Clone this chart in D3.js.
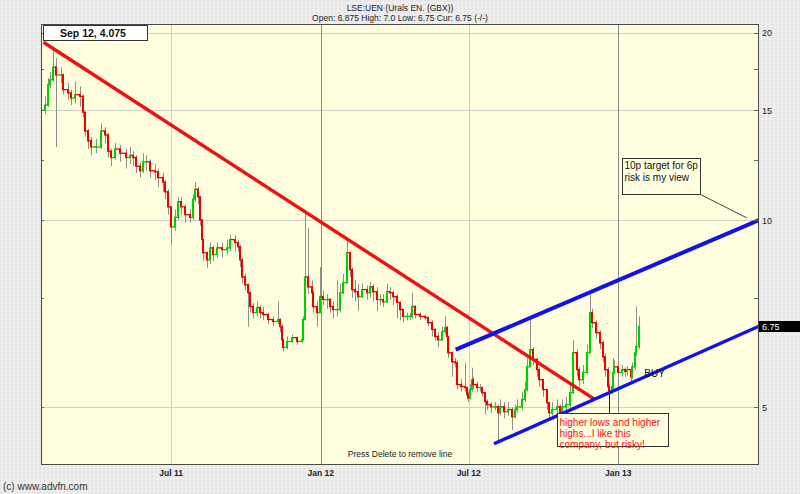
<!DOCTYPE html>
<html>
<head>
<meta charset="utf-8">
<script src="https://cdn.jsdelivr.net/npm/d3@7"></script>
<style>
body { margin: 0; background: #ececec; }
svg { display: block; font-family: Arial, "Liberation Sans", sans-serif; }
</style>
</head>
<body>
<div id="chart"></div>
<script>

// price data (roughly one bar per week)
var dates = [
    '2011-01-22','2011-01-27','2011-01-31','2011-02-02','2011-02-06','2011-02-10','2011-02-15','2011-02-18','2011-02-24','2011-02-28',
    '2011-03-05','2011-03-11','2011-03-15','2011-03-17','2011-03-21','2011-03-25','2011-03-31','2011-04-06','2011-04-11','2011-04-15',
    '2011-04-18','2011-04-23','2011-04-29','2011-05-06','2011-05-12','2011-05-15','2011-05-19','2011-05-24','2011-05-28','2011-05-31',
    '2011-06-05','2011-06-11','2011-06-15','2011-06-21','2011-06-24','2011-06-27','2011-07-01','2011-07-06','2011-07-10','2011-07-13',
    '2011-07-18','2011-07-24','2011-07-28','2011-07-30','2011-08-03','2011-08-06','2011-08-08','2011-08-09','2011-08-14','2011-08-18',
    '2011-08-22','2011-08-26','2011-09-02','2011-09-08','2011-09-11','2011-09-18','2011-09-21','2011-09-24','2011-09-26','2011-09-30',
    '2011-10-04','2011-10-06','2011-10-10','2011-10-15','2011-10-18','2011-10-22','2011-10-28','2011-11-03','2011-11-09','2011-11-12',
    '2011-11-14','2011-11-16','2011-11-20','2011-11-27','2011-12-03','2011-12-09','2011-12-10','2011-12-13','2011-12-16','2011-12-21',
    '2011-12-22','2011-12-27','2011-12-31','2012-01-04','2012-01-09','2012-01-12','2012-01-16','2012-01-21','2012-01-25','2012-01-28',
    '2012-02-02','2012-02-06','2012-02-08','2012-02-12','2012-02-16','2012-02-21','2012-02-27','2012-03-01','2012-03-05','2012-03-10',
    '2012-03-14','2012-03-17','2012-03-22','2012-03-26','2012-03-30','2012-04-04','2012-04-07','2012-04-11','2012-04-16','2012-04-20',
    '2012-04-22','2012-04-26','2012-05-02','2012-05-08','2012-05-12','2012-05-17','2012-05-20','2012-05-24','2012-05-29','2012-06-02',
    '2012-06-04','2012-06-06','2012-06-10','2012-06-14','2012-06-16','2012-06-17','2012-06-22','2012-06-26','2012-06-29','2012-06-30',
    '2012-07-02','2012-07-05','2012-07-06','2012-07-11','2012-07-15','2012-07-17','2012-07-21','2012-07-24','2012-07-29','2012-08-02',
    '2012-08-06','2012-08-08','2012-08-14','2012-08-18','2012-08-23','2012-08-27','2012-08-30','2012-09-04','2012-09-08','2012-09-11',
    '2012-09-14','2012-09-18','2012-09-23','2012-09-26','2012-09-30','2012-10-05','2012-10-08','2012-10-12','2012-10-17','2012-10-21',
    '2012-10-24','2012-10-29','2012-11-02','2012-11-06','2012-11-11','2012-11-14','2012-11-18','2012-11-23','2012-11-27','2012-11-30',
    '2012-12-05','2012-12-09','2012-12-13','2012-12-15','2012-12-19','2012-12-21','2012-12-24','2012-12-25','2012-12-27','2012-12-31',
    '2013-01-05','2013-01-09','2013-01-12','2013-01-16','2013-01-18','2013-01-21','2013-01-23','2013-01-26'
];
var firstOpen = 15.2;
var closes = [
    15.0, 15.3, 16.5, 16.8, 17.6, 17.1, 17.1, 16.2, 16.0, 15.7,
    15.9, 15.8, 14.9, 13.9, 13.4, 13.1, 13.1, 13.9, 13.7, 12.9,
    12.6, 13.0, 12.8, 12.6, 12.7, 12.6, 12.2, 12.0, 12.4, 12.4,
    12.0, 11.95, 11.7, 11.5, 11.1, 10.5, 9.75, 10.1, 10.7, 10.5,
    10.2, 10.1, 10.8, 11.2, 10.9, 10.0, 9.3, 8.86, 8.63, 9.02,
    8.8, 9.02, 8.96, 9.02, 9.3, 9.2, 9.06, 8.63, 8.1, 7.87,
    7.64, 7.26, 7.1, 7.23, 7.1, 7.05, 6.92, 6.87, 6.92, 6.74,
    6.42, 6.24, 6.38, 6.47, 6.38, 6.42, 6.92, 8.1, 7.81, 7.64,
    7.26, 7.1, 7.53, 7.45, 7.45, 7.26, 7.18, 7.18, 7.64, 7.93,
    8.86, 8.32, 7.73, 7.67, 7.53, 7.73, 7.64, 7.81, 7.67, 7.45,
    7.45, 7.39, 7.67, 7.64, 7.53, 7.37, 7.18, 7.0, 7.0, 7.0,
    7.26, 7.05, 7.0, 6.97, 6.84, 6.67, 6.5, 6.42, 6.62, 6.72,
    6.5, 6.12, 5.92, 5.9, 5.75, 5.44, 5.4, 5.38, 5.24, 5.18,
    5.34, 5.54, 5.44, 5.38, 5.38, 5.28, 5.11, 5.05, 5.01, 5.01,
    4.9, 5.01, 4.92, 4.96, 4.83, 4.96, 5.01, 5.15, 5.34, 5.81,
    6.19, 5.97, 5.75, 5.54, 5.34, 5.09, 4.9, 4.96, 5.01, 4.9,
    5.01, 5.05, 5.28, 6.12, 5.75, 5.54, 5.69, 6.12, 7.1, 6.84,
    6.59, 6.35, 6.03, 5.75, 5.4, 5.28, 5.4, 5.69, 5.81, 5.69,
    5.75, 5.71, 5.75, 5.6, 5.81, 6.12, 6.26, 6.75
];
var highs = [
    15.6, 15.8, 16.9, 17.3, 18.9, 18.2, 17.6, 17.2, 16.6, 16.2,
    16.7, 16.4, 15.9, 14.9, 14.0, 13.6, 13.5, 14.3, 14.1, 13.8,
    13.0, 13.3, 13.2, 13.0, 13.1, 12.9, 12.7, 12.4, 12.8, 12.7,
    12.5, 12.3, 12.1, 11.9, 11.6, 11.2, 10.5, 10.4, 10.9, 10.9,
    10.6, 10.4, 11.0, 11.5, 11.3, 10.9, 10.0, 9.3, 8.9, 9.2,
    9.1, 9.2, 9.2, 9.3, 9.47, 9.45, 9.3, 9.1, 8.7, 8.2,
    7.9, 7.7, 7.35, 7.4, 7.3, 7.25, 7.1, 7.0, 7.4, 6.95,
    6.8, 6.45, 6.5, 6.55, 6.5, 6.5, 7.0, 10.3, 9.7, 8.0,
    7.7, 7.4, 8.4, 7.7, 7.6, 7.5, 7.4, 8.0, 7.9, 8.2,
    9.3, 8.9, 8.4, 8.0, 7.9, 7.9, 7.85, 7.95, 7.9, 7.8,
    7.6, 7.6, 7.9, 7.8, 7.7, 7.6, 7.4, 7.2, 7.1, 7.1,
    7.64, 7.3, 7.1, 7.05, 7.0, 6.9, 6.7, 6.6, 6.75, 7.0,
    6.75, 6.5, 6.15, 6.0, 5.95, 5.75, 5.55, 5.9, 5.4, 5.3,
    5.45, 5.79, 5.6, 5.5, 5.45, 5.4, 5.3, 5.15, 5.1, 5.1,
    5.05, 5.15, 5.1, 5.1, 5.0, 5.05, 5.15, 5.3, 5.5, 6.0,
    6.92, 6.25, 6.0, 5.8, 5.55, 5.35, 5.1, 5.1, 5.15, 5.05,
    5.15, 5.2, 5.45, 6.42, 6.2, 5.8, 5.85, 6.3, 7.59, 7.2,
    6.9, 6.65, 6.4, 6.1, 5.8, 5.45, 5.5, 6.0, 5.95, 5.85,
    5.85, 5.8, 5.82, 5.78, 5.9, 6.25, 7.26, 7.0
];
var lows = [
    14.2, 14.8, 15.2, 16.3, 16.7, 13.1, 16.6, 15.9, 15.6, 15.3,
    15.4, 15.2, 14.6, 13.6, 13.0, 12.7, 12.8, 13.0, 13.3, 12.6,
    12.2, 12.5, 12.4, 12.1, 12.3, 12.2, 11.9, 11.7, 11.9, 12.0,
    11.7, 11.6, 11.3, 11.1, 10.8, 10.2, 9.13, 9.6, 10.0, 10.2,
    9.9, 9.9, 10.0, 10.7, 10.6, 9.8, 9.1, 8.6, 8.38, 8.5,
    8.6, 8.7, 8.7, 8.8, 8.9, 8.9, 8.9, 8.4, 7.9, 7.7,
    6.74, 7.1, 6.95, 7.0, 6.95, 6.9, 6.8, 6.75, 6.8, 6.6,
    6.3, 6.15, 6.2, 6.35, 6.3, 6.35, 6.4, 6.9, 7.6, 7.4,
    7.1, 6.74, 7.1, 7.3, 7.2, 7.1, 6.95, 7.0, 7.1, 7.6,
    7.9, 8.1, 7.5, 7.4, 7.15, 7.5, 7.45, 7.5, 7.4, 7.14,
    7.3, 7.25, 7.35, 7.45, 7.3, 6.95, 6.9, 6.85, 6.9, 6.9,
    6.95, 6.95, 6.9, 6.9, 6.75, 6.5, 6.4, 6.25, 6.4, 6.55,
    6.4, 6.0, 5.6, 5.8, 5.65, 5.35, 5.3, 5.3, 5.15, 5.1,
    5.15, 5.3, 5.35, 5.3, 5.3, 5.2, 4.87, 4.95, 4.9, 4.95,
    4.37, 4.85, 4.8, 4.85, 4.6, 4.8, 4.9, 4.95, 5.1, 5.3,
    5.8, 5.85, 5.6, 5.4, 5.2, 4.95, 4.8, 4.85, 4.9, 4.8,
    4.88, 4.95, 5.0, 5.25, 5.6, 5.4, 5.45, 5.65, 6.1, 6.7,
    6.45, 6.2, 5.9, 5.6, 5.3, 5.2, 5.25, 5.35, 5.65, 5.55,
    5.6, 5.6, 5.62, 5.5, 5.55, 5.75, 6.05, 6.2
];

// axis
var majorTicks = [5, 10, 15, 20];
var minorTicks = [7.5, 12.5, 17.5];
var monthTicks = ['2011-07-01', '2012-01-01', '2012-07-01', '2013-01-01'];
var monthLabels = ['Jul 11', 'Jan 12', 'Jul 12', 'Jan 13'];
var xDomain = ['2011-01-22', '2013-06-23'];
var yDomain = [4.04, 20.65];

// drawn trend lines [date, price]
var redLine = [['2011-01-25', 19.3], ['2012-12-03', 5.15]];
var blueTop = [['2012-06-15', 6.19], ['2013-06-23', 10.0]];
var blueBottom = [['2012-08-01', 4.37], ['2013-06-23', 6.75]];

// notes
var noteTarget = {at: ['2013-01-05', 12.6], to: ['2013-06-08', 10.08],
    lines: ['10p target for 6p', 'risk is my view']};
var noteLows = {at: ['2012-10-17', 4.9], from: ['2012-12-21', 5.24],
    lines: ['higher lows and higher', 'highs...I like this', 'company, but risky!']};
var noteBuy = {at: ['2013-02-02', 5.67], text: 'BUY'};

var title = 'LSE:UEN (Urals EN. (GBX))';
var subtitle = 'Open: 6.875 High: 7.0 Low: 6.75 Cur: 6.75 (-/-)';
var cursorText = 'Sep 12, 4.075';
var lastPrice = 6.75;

var W = 800, H = 494;
var margin = {top: 24, right: 41, bottom: 29, left: 41};
var parse = d3.timeParse('%Y-%m-%d');

var bars = dates.map(function (d, i) {
    return {date: parse(d), open: i === 0 ? firstOpen : closes[i - 1],
        close: closes[i], high: highs[i], low: lows[i]};
});

var svg = d3.select('#chart').append('svg')
    .attr('width', W)
    .attr('height', H);

// stippled backgrounds
var defs = svg.append('defs');
var pat = defs.append('pattern').attr('id', 'stip')
    .attr('width', 4).attr('height', 4).attr('patternUnits', 'userSpaceOnUse');
pat.append('rect').attr('width', 4).attr('height', 4).attr('fill', '#ececec');
pat.append('rect').attr('x', 0).attr('y', 0).attr('width', 1).attr('height', 1).attr('fill', '#dcdcdc');
pat.append('rect').attr('x', 2).attr('y', 2).attr('width', 1).attr('height', 1).attr('fill', '#f7f7f7');
pat.append('rect').attr('x', 3).attr('y', 1).attr('width', 1).attr('height', 1).attr('fill', '#e2e2e2');

svg.append('rect').attr('width', W).attr('height', H).attr('fill', 'url(#stip)');

var x0 = margin.left, x1 = W - margin.right, y0 = margin.top, y1 = H - margin.bottom;

var x = d3.scaleTime()
    .domain(xDomain.map(parse))
    .range([x0, x1]);
var y = d3.scaleLog()
    .domain(yDomain)
    .range([y1, y0]);

defs.append('clipPath').attr('id', 'plotclip')
    .append('rect').attr('x', x0).attr('y', y0).attr('width', x1 - x0).attr('height', y1 - y0);

svg.append('rect')
    .attr('x', x0).attr('y', y0)
    .attr('width', x1 - x0).attr('height', y1 - y0)
    .attr('fill', '#ffffe0');

/////// GRID
svg.append('g').selectAll('line')
    .data(majorTicks)
    .enter().append('line')
    .attr('x1', x0).attr('x2', x1)
    .attr('y1', function (d) { return Math.round(y(d)) + 0.5; })
    .attr('y2', function (d) { return Math.round(y(d)) + 0.5; })
    .attr('stroke', '#cfcfc4');

svg.append('g').selectAll('line')
    .data(monthTicks)
    .enter().append('line')
    .attr('x1', function (d) { return Math.round(x(parse(d))) + 0.5; })
    .attr('x2', function (d) { return Math.round(x(parse(d))) + 0.5; })
    .attr('y1', y0).attr('y2', y1)
    .attr('stroke', function (d) { return d.indexOf('-01-01') > 0 ? '#8a8a8a' : '#cfcfc4'; });

/////// PRICE BARS
var plot = svg.append('g').attr('clip-path', 'url(#plotclip)');

plot.append('g').selectAll('line')
    .data(bars)
    .enter().append('line')
    .attr('x1', function (d) { return Math.round(x(d.date)) + 0.5; })
    .attr('x2', function (d) { return Math.round(x(d.date)) + 0.5; })
    .attr('y1', function (d) { return y(d.high); })
    .attr('y2', function (d) { return y(d.low); })
    .attr('stroke', '#8e8e8e')
    .attr('stroke-width', 1);

function barColor(d) {
    return d.close >= d.open ? '#00d000' : '#f00000';
}

// flat step from previous bar at the open level
plot.append('g').selectAll('line')
    .data(bars)
    .enter().append('line')
    .attr('x1', function (d, i) { return i === 0 ? x(d.date) - 3 : x(bars[i - 1].date); })
    .attr('x2', function (d) { return x(d.date); })
    .attr('y1', function (d) { return y(d.open); })
    .attr('y2', function (d) { return y(d.open); })
    .attr('stroke', barColor)
    .attr('stroke-width', 1.3);

plot.append('g').selectAll('rect')
    .data(bars)
    .enter().append('rect')
    .attr('x', function (d) { return Math.round(x(d.date)) - 1; })
    .attr('y', function (d) { return Math.min(y(d.open), y(d.close)) - 0.6; })
    .attr('width', 2)
    .attr('height', function (d) { return Math.abs(y(d.open) - y(d.close)) + 1.2; })
    .attr('fill', barColor);

/////// TREND LINES
var trend = d3.line()
    .x(function (d) { return x(parse(d[0])); })
    .y(function (d) { return y(d[1]); });

plot.append('path').datum(redLine)
    .attr('d', trend).attr('fill', 'none')
    .attr('stroke', '#f01010').attr('stroke-width', 3.4);
plot.append('path').datum(blueTop)
    .attr('d', trend).attr('fill', 'none')
    .attr('stroke', '#1010f0').attr('stroke-width', 4);
plot.append('path').datum(blueBottom)
    .attr('d', trend).attr('fill', 'none')
    .attr('stroke', '#1010f0').attr('stroke-width', 3.4);

/////// NOTES
function note(n, w, h, color, lineGap, firstLine) {
    var px = Math.round(x(parse(n.at[0]))) + 0.5;
    var py = Math.round(y(n.at[1])) + 0.5;
    var g = plot.append('g');
    g.append('rect')
        .attr('x', px).attr('y', py).attr('width', w).attr('height', h)
        .attr('fill', '#ffffe0').attr('stroke', '#333').attr('stroke-width', 1);
    g.append('text')
        .attr('font-size', '10px')
        .attr('fill', color)
        .selectAll('tspan').data(n.lines).enter().append('tspan')
        .attr('x', px + 2)
        .attr('y', function (d, i) { return py + firstLine + i * lineGap; })
        .text(function (d) { return d; });
    return {x: px, y: py};
}

var t = note(noteTarget, 78, 36, '#111', 11.5, 10.5);
plot.append('line')
    .attr('x1', t.x + 78).attr('y1', t.y + 36)
    .attr('x2', x(parse(noteTarget.to[0]))).attr('y2', y(noteTarget.to[1]))
    .attr('stroke', '#444').attr('stroke-width', 1);

var l = note(noteLows, 111, 33, '#ff1010', 11, 12);
plot.append('line')
    .attr('x1', Math.round(x(parse(noteLows.from[0]))) + 0.5)
    .attr('x2', Math.round(x(parse(noteLows.from[0]))) + 0.5)
    .attr('y1', y(noteLows.from[1])).attr('y2', l.y)
    .attr('stroke', '#222').attr('stroke-width', 1);

plot.append('text')
    .attr('x', x(parse(noteBuy.at[0]))).attr('y', y(noteBuy.at[1]) + 4)
    .attr('font-size', '10px').attr('fill', '#111')
    .text(noteBuy.text);

plot.append('text')
    .attr('x', (x0 + x1) / 2).attr('y', y1 - 8)
    .attr('text-anchor', 'middle')
    .attr('font-size', '8.5px').attr('fill', '#222')
    .text('Press Delete to remove line');

/////// AXES
// y ticks on both borders
var allTicks = majorTicks.concat(minorTicks);
svg.append('g').selectAll('line')
    .data(allTicks)
    .enter().append('line')
    .attr('x1', x1 - 5).attr('x2', x1)
    .attr('y1', function (d) { return Math.round(y(d)) + 0.5; })
    .attr('y2', function (d) { return Math.round(y(d)) + 0.5; })
    .attr('stroke', '#666');
svg.append('g').selectAll('line')
    .data(allTicks)
    .enter().append('line')
    .attr('x1', x0).attr('x2', x0 + 3)
    .attr('y1', function (d) { return Math.round(y(d)) + 0.5; })
    .attr('y2', function (d) { return Math.round(y(d)) + 0.5; })
    .attr('stroke', '#666');

svg.append('g').selectAll('text')
    .data(majorTicks)
    .enter().append('text')
    .attr('x', x1 + 3)
    .attr('y', function (d) { return y(d) + 3.5; })
    .attr('font-size', '9px').attr('fill', '#222')
    .text(function (d) { return d; });

svg.append('g').selectAll('text')
    .data(monthTicks)
    .enter().append('text')
    .attr('x', function (d) { return x(parse(d)); })
    .attr('y', y1 + 11)
    .attr('text-anchor', 'middle')
    .attr('font-size', '8.5px').attr('font-weight', 'bold').attr('fill', '#222')
    .text(function (d, i) { return monthLabels[i]; });

// plot border
svg.append('rect')
    .attr('x', x0 + 0.5).attr('y', y0 + 0.5)
    .attr('width', x1 - x0 - 1).attr('height', y1 - y0 - 1)
    .attr('fill', 'none').attr('stroke', '#4a4a4a');

// current price flag
var ly = y(lastPrice);
svg.append('rect')
    .attr('x', x1).attr('y', Math.round(ly) - 5)
    .attr('width', W - x1).attr('height', 11)
    .attr('fill', '#000');
svg.append('text')
    .attr('x', x1 + 3).attr('y', Math.round(ly) + 4)
    .attr('font-size', '9px').attr('fill', '#fff')
    .text(lastPrice);

// titles
svg.append('text')
    .attr('x', W / 2).attr('y', 11)
    .attr('text-anchor', 'middle').attr('font-size', '8.5px').attr('fill', '#222')
    .text(title);
svg.append('text')
    .attr('x', W / 2).attr('y', 21)
    .attr('text-anchor', 'middle').attr('font-size', '8.5px').attr('fill', '#222')
    .text(subtitle);

// cursor read-out
svg.append('rect')
    .attr('x', x0 + 2.5).attr('y', y0 + 1.5)
    .attr('width', 104).attr('height', 15)
    .attr('fill', '#fff').attr('stroke', '#333');
svg.append('text')
    .attr('x', x0 + 19).attr('y', y0 + 13)
    .attr('font-size', '10.5px').attr('font-weight', 'bold').attr('fill', '#111')
    .text(cursorText);

svg.append('text')
    .attr('x', 3).attr('y', 490)
    .attr('font-size', '10px').attr('fill', '#333')
    .text('(c) www.advfn.com');

</script>
</body>
</html>
